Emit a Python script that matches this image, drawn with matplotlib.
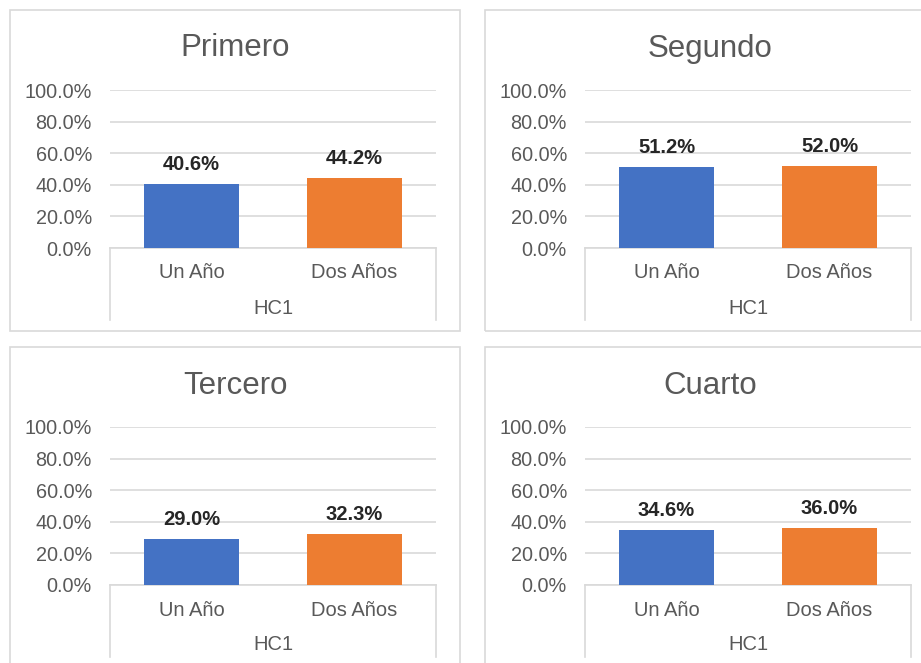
import matplotlib
matplotlib.use("Agg")
import matplotlib.pyplot as plt
from matplotlib.patches import Rectangle

plt.rcParams['font.family'] = ['Liberation Sans', 'DejaVu Sans']

# data
titles = ["Primero", "Segundo", "Tercero", "Cuarto"]
categories = ["Un Año", "Dos Años"]
group_label = "HC1"
values = [
    [0.406, 0.442],
    [0.512, 0.520],
    [0.290, 0.323],
    [0.346, 0.360],
]
yticks = [0.0, 0.2, 0.4, 0.6, 0.8, 1.0]
bar_colors = ["#4472C4", "#ED7D31"]

W, H = 921, 663
TEXT = "#595959"
LINE = "#D9D9D9"

# panel top-left corners in pixels (left, top)
panels = [(10, 10), (485, 10), (10, 347), (485, 347)]
PANEL_W, PANEL_H = 450, 321


def fx(px):
    return px / W


def fy(py):
    return 1 - py / H


fig = plt.figure(figsize=(W / 100, H / 100), dpi=100)

for i, (pl, pt) in enumerate(panels):
    # chart border
    fig.patches.append(Rectangle((fx(pl), fy(pt + PANEL_H)), PANEL_W / W, PANEL_H / H,
                                 transform=fig.transFigure, fill=False,
                                 edgecolor=LINE, linewidth=1.2))
    fig.text(fx(pl + PANEL_W / 2), fy(pt + 46.5), titles[i], ha='center', va='baseline',
             fontsize=22.5, color=TEXT)

    # plot area
    x0, x1 = pl + 100, pl + 426
    y0, y1 = pt + 80, pt + 238
    ax = fig.add_axes([fx(x0), fy(y1), (x1 - x0) / W, (y1 - y0) / H])
    xs = range(len(categories))
    bars = ax.bar(xs, values[i], width=0.58, color=bar_colors, zorder=3)
    for b, v in zip(bars, values[i]):
        ax.annotate(f"{v * 100:.1f}%", (b.get_x() + b.get_width() / 2, v),
                    xytext=(0, 10), textcoords='offset points', ha='center',
                    va='baseline', fontsize=14.5, fontweight='bold', color='#262626')

    ax.set_xlim(-0.5, 1.5)
    ax.set_ylim(0, 1)
    ax.set_yticks(yticks)
    ax.set_yticklabels([f"{t * 100:.1f}%" for t in yticks], fontsize=14.3, color=TEXT)
    ax.tick_params(axis='y', length=0, pad=13)
    ax.set_xticks([])
    ax.grid(axis='y', color=LINE, linewidth=1.2, zorder=0)
    for s in ['top', 'left', 'right']:
        ax.spines[s].set_visible(False)
    ax.spines['bottom'].set_color(LINE)
    ax.spines['bottom'].set_linewidth(1.2)

    # multi-level category axis box
    h = y1 - y0
    box_bottom = -(pt + 310 - y1) / h
    for xa in (0, 1):
        ax.plot([xa, xa], [0, box_bottom], transform=ax.transAxes, color=LINE,
                linewidth=1.2, clip_on=False)
    for xc, c in zip(xs, categories):
        ax.text(xc, -(25 / h), c, transform=ax.get_xaxis_transform(), ha='center',
                va='center', fontsize=14.5, color=TEXT)
    ax.text(0.5, -(60 / h), group_label, transform=ax.transAxes, ha='center',
            va='center', fontsize=14.5, color=TEXT)

fig.savefig("out.png", dpi=100, facecolor='white')
